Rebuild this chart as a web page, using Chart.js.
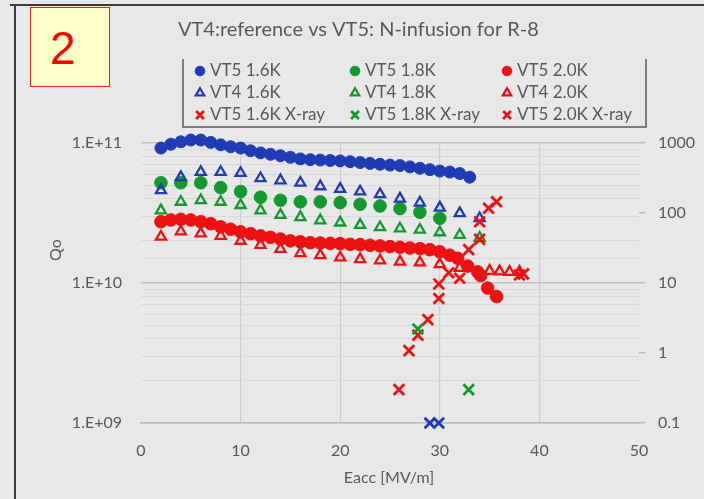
<!DOCTYPE html>
<html>
<head>
<meta charset="utf-8">
<title>VT4 reference vs VT5 N-infusion, R-8</title>
<script src="https://cdn.jsdelivr.net/npm/chart.js@4.4.1/dist/chart.umd.min.js"></script>
<style>
    html, body { margin: 0; padding: 0; background: #e8e8e8; overflow: hidden; }
    #wrap { position: relative; width: 704px; height: 499px; }
    #chart { position: absolute; left: 0; top: 0; }
    #frameTop { position: absolute; left: 10px; top: 4px; width: 694px; height: 2px; background: #3c3c3c; }
    #frameLeft { position: absolute; left: 14px; top: 6px; width: 2px; height: 493px; background: #3c3c3c; }
    #slideNo {
        position: absolute; left: 30px; top: 7px; width: 78px; height: 78px;
        background: #ffffc8; border: 1px solid #ff1a1a; color: #ff0000;
        font: 46px 'Liberation Sans', Arial, sans-serif; line-height: 80px;
        box-sizing: content-box; padding-left: 0; text-indent: 19px;
    }
</style>
</head>
<body>
<div id="wrap">
    <canvas id="chart" width="704" height="499"></canvas>
    <div id="frameTop"></div>
    <div id="frameLeft"></div>
    <div id="slideNo">2</div>
</div>
<script>
const chartTitle = 'VT4:reference vs VT5: N-infusion for R-8';

// VT5 (N-infusion), Q0 vs Eacc [MV/m]
const eaccVT5_16 = [2, 3, 4, 5, 6, 7, 8, 9, 10, 11, 12, 13, 14, 15, 16, 17, 18, 19, 20, 21, 22, 23, 24, 25, 26, 27, 28, 29, 30, 31, 32, 33];
const qoVT5_16 = [9.2e10, 9.8e10, 1.02e11, 1.05e11, 1.05e11, 1.01e11, 9.7e10, 9.4e10, 9.2e10, 8.8e10, 8.5e10, 8.3e10, 8.1e10, 7.9e10, 7.7e10, 7.6e10,
    7.55e10, 7.5e10, 7.45e10, 7.35e10, 7.25e10, 7.15e10, 7.05e10, 6.95e10, 6.9e10, 6.75e10, 6.6e10, 6.45e10, 6.3e10, 6.2e10, 6.05e10, 5.7e10];

const eaccVT5_18 = [2, 4, 6, 8, 10, 12, 14, 16, 18, 20, 22, 24, 26, 28, 30];
const qoVT5_18 = [5.2e10, 5.2e10, 5.2e10, 4.8e10, 4.5e10, 4.1e10, 3.9e10, 3.8e10, 3.8e10, 3.75e10, 3.65e10, 3.55e10, 3.4e10, 3.2e10, 2.9e10];

const eaccVT5_20 = [2, 3, 4, 5, 6, 7, 8, 9, 10, 11, 12, 13, 14, 15, 16, 17, 18, 19, 20, 21, 22, 23, 24, 25, 26, 27, 28, 29, 30, 31,
    31.8, 32.8, 33.8, 34.1, 34.8, 35.7];
const qoVT5_20 = [2.74e10, 2.82e10, 2.85e10, 2.82e10, 2.74e10, 2.65e10, 2.52e10, 2.42e10, 2.32e10, 2.25e10, 2.17e10, 2.12e10, 2.06e10, 2.0e10,
    1.97e10, 1.94e10, 1.93e10, 1.92e10, 1.91e10, 1.89e10, 1.88e10, 1.86e10, 1.84e10, 1.82e10, 1.8e10, 1.78e10, 1.76e10, 1.73e10, 1.67e10, 1.58e10,
    1.5e10, 1.32e10, 1.2e10, 1.13e10, 9.2e9, 8.0e9];

// VT4 (reference)
const eaccVT4 = [2, 4, 6, 8, 10, 12, 14, 16, 18, 20, 22, 24, 26, 28, 30, 32, 34];
const qoVT4_16 = [4.6e10, 5.7e10, 6.2e10, 6.2e10, 6.1e10, 5.6e10, 5.4e10, 5.2e10, 4.9e10, 4.7e10, 4.5e10, 4.3e10, 4.0e10, 3.75e10, 3.45e10, 3.15e10, 2.9e10];
const qoVT4_18 = [3.3e10, 3.8e10, 3.9e10, 3.8e10, 3.6e10, 3.3e10, 3.06e10, 2.95e10, 2.8e10, 2.7e10, 2.6e10, 2.5e10, 2.45e10, 2.4e10, 2.3e10, 2.2e10, 2.1e10];

const eaccVT4_20 = [2, 4, 6, 8, 10, 12, 14, 16, 18, 20, 22, 24, 26, 28, 30, 32, 35, 36, 37, 38];
const qoVT4_20 = [2.14e10, 2.33e10, 2.26e10, 2.17e10, 2.0e10, 1.87e10, 1.75e10, 1.63e10, 1.58e10, 1.52e10, 1.48e10, 1.45e10, 1.42e10, 1.4e10,
    1.36e10, 1.28e10, 1.22e10, 1.21e10, 1.2e10, 1.2e10];

// VT5 X-ray dose (right axis)
const eaccXray16 = [29.0, 29.9];
const doseXray16 = [0.1, 0.1];
const eaccXray18 = [27.8, 32.9];
const doseXray18 = [2.2, 0.3];
const eaccXray20 = [25.9, 26.9, 27.8, 28.8, 29.9, 29.9, 30.9, 32.0, 32.9, 34.0, 34.0, 34.9, 35.7, 38.0, 38.4];
const doseXray20 = [0.3, 1.08, 1.8, 3.0, 6.0, 9.7, 14, 11.7, 30, 42, 75, 117, 145, 13, 13.5];

// axis ticks
const eaccTicks = [0, 10, 20, 30, 40, 50];
const qoDecades = [1e9, 1e10, 1e11];
const qoLabels = ['1.E+09', '1.E+10', '1.E+11'];
const doseDecades = [0.1, 1, 10, 100, 1000];
const doseLabels = ['0.1', '1', '10', '100', '1000'];

const BLUE = '#1f3cb4';
const GREEN = '#14992f';
const RED = '#ee1111';
const TEXT = '#595959';

function points(xs, ys) {
    return xs.map((x, i) => ({ x: x, y: ys[i] }));
}

function decadeIndex(list, v) {
    return list.findIndex(d => Math.abs(Math.log10(d) - Math.log10(v)) < 1e-6);
}

function circleSet(label, xs, ys, color, r) {
    return { label, data: points(xs, ys), yAxisID: 'y', pointStyle: 'circle', pointRadius: r,
        backgroundColor: color, borderColor: color, borderWidth: 1, order: 3, clip: false };
}
function triangleSet(label, xs, ys, color) {
    return { label, data: points(xs, ys), yAxisID: 'y', pointStyle: 'triangle', pointRadius: 5.8,
        backgroundColor: 'rgba(0,0,0,0)', borderColor: color, borderWidth: 2.3, order: 2, clip: false };
}
function crossSet(label, xs, ys, color) {
    return { label, data: points(xs, ys), yAxisID: 'y2', pointStyle: 'crossRot', pointRadius: 7.5,
        backgroundColor: color, borderColor: color, borderWidth: 2.8, order: 1, clip: false };
}

const datasets = [
    circleSet('VT5 1.6K', eaccVT5_16, qoVT5_16, BLUE, 6),
    circleSet('VT5 1.8K', eaccVT5_18, qoVT5_18, GREEN, 6.3),
    circleSet('VT5 2.0K', eaccVT5_20, qoVT5_20, RED, 6.3),
    triangleSet('VT4 1.6K', eaccVT4, qoVT4_16, BLUE),
    triangleSet('VT4 1.8K', eaccVT4, qoVT4_18, GREEN),
    triangleSet('VT4 2.0K', eaccVT4_20, qoVT4_20, RED),
    crossSet('VT5 1.6K X-ray', eaccXray16, doseXray16, BLUE),
    crossSet('VT5 1.8K X-ray', eaccXray18, doseXray18, GREEN),
    crossSet('VT5 2.0K X-ray', eaccXray20, doseXray20, RED)
];
// the 1.6K X-ray entry carries a red key in the legend
datasets[6].legendColor = RED;

// title, 3x3 legend and axis titles
const annotations = {
    id: 'annotations',
    afterDraw(chart) {
        const ctx = chart.ctx;
        ctx.save();
        ctx.fillStyle = TEXT;
        ctx.textBaseline = 'middle';
        ctx.textAlign = 'left';
        ctx.font = '20px Lato';
        ctx.fillText(chartTitle, 178, 30);

        ctx.strokeStyle = '#5a5a5a';
        ctx.lineWidth = 1.5;
        ctx.beginPath();
        ctx.moveTo(183, 59);
        ctx.lineTo(183, 127);
        ctx.lineTo(646, 127);
        ctx.lineTo(646, 59);
        ctx.stroke();

        const colX = [200, 355, 507];
        const rowY = [71, 93, 115];
        ctx.font = '17px Lato';
        chart.data.datasets.forEach((ds, i) => {
            const x = colX[i % 3];
            const y = rowY[Math.floor(i / 3)];
            const key = ds.legendColor || ds.borderColor;
            ctx.fillStyle = ds.pointStyle === 'triangle' ? 'rgba(0,0,0,0)' : key;
            ctx.strokeStyle = key;
            ctx.lineWidth = ds.borderWidth;
            const r = ds.pointStyle === 'crossRot' ? 5.5 : 4.8;
            Chart.helpers.drawPoint(ctx, { pointStyle: ds.pointStyle, radius: r, borderWidth: ds.borderWidth, rotation: 0 }, x, y);
            ctx.fillStyle = TEXT;
            ctx.fillText(ds.label, x + 10, y);
        });

        ctx.font = '16px Lato';
        ctx.textAlign = 'center';
        ctx.fillText('Eacc [MV/m]', 389, 478);
        ctx.translate(56, 250);
        ctx.rotate(-Math.PI / 2);
        ctx.fillText('Qo', 0, 0);
        ctx.restore();
    }
};

function drawChart() {
    Chart.defaults.font.family = 'Lato';
    Chart.defaults.font.size = 16;
    Chart.defaults.color = TEXT;

    new Chart(document.getElementById('chart'), {
        type: 'scatter',
        data: { datasets: datasets },
        options: {
            responsive: false,
            animation: false,
            devicePixelRatio: 1,
            layout: { padding: { top: 143, left: 0, right: 0, bottom: 0 } },
            plugins: { legend: { display: false }, tooltip: { enabled: false } },
            scales: {
                x: {
                    type: 'linear',
                    min: eaccTicks[0],
                    max: eaccTicks[eaccTicks.length - 1],
                    afterBuildTicks: scale => { scale.ticks = eaccTicks.map(v => ({ value: v })); },
                    afterFit: scale => { scale.height = 76; },
                    ticks: { padding: 18, color: TEXT },
                    grid: {
                        drawTicks: false,
                        lineWidth: 1.2,
                        color: c => (c.tick && (c.tick.value === 0 || c.tick.value === 50)) ? 'rgba(0,0,0,0)' : '#cdcdcd'
                    },
                    border: { display: true, color: '#bdbdbd', width: 1.5 }
                },
                y: {
                    type: 'logarithmic',
                    position: 'left',
                    min: qoDecades[0],
                    max: qoDecades[qoDecades.length - 1],
                    afterFit: scale => { scale.width = 141; },
                    ticks: {
                        autoSkip: false,
                        padding: 19,
                        color: TEXT,
                        callback: v => {
                            const i = decadeIndex(qoDecades, v);
                            return i >= 0 ? qoLabels[i] : '';
                        }
                    },
                    grid: {
                        drawTicks: false,
                        color: c => (c.tick && decadeIndex(qoDecades, c.tick.value) >= 0) ? '#c4c4c4' : '#d9d9d9',
                        lineWidth: c => (c.tick && decadeIndex(qoDecades, c.tick.value) >= 0) ? 1.5 : 1
                    },
                    border: { display: false }
                },
                y2: {
                    type: 'logarithmic',
                    position: 'right',
                    min: doseDecades[0],
                    max: doseDecades[doseDecades.length - 1],
                    afterFit: scale => { scale.width = 65; },
                    ticks: {
                        autoSkip: false,
                        padding: 13,
                        color: TEXT,
                        callback: v => {
                            const i = decadeIndex(doseDecades, v);
                            return i >= 0 ? doseLabels[i] : '';
                        }
                    },
                    grid: {
                        drawOnChartArea: false,
                        tickLength: 6,
                        lineWidth: 1.5,
                        color: c => (c.tick && decadeIndex(doseDecades, c.tick.value) >= 0) ? '#bdbdbd' : 'rgba(0,0,0,0)'
                    },
                    border: { display: false }
                }
            }
        },
        plugins: [annotations]
    });
}

document.fonts.load('16px Lato').then(drawChart, drawChart);
</script>
</body>
</html>
